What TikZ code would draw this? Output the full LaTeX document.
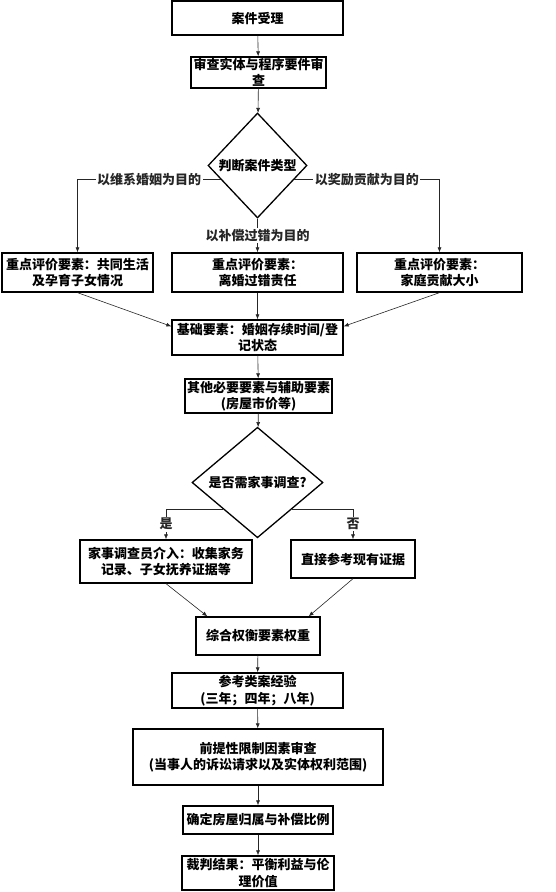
\documentclass[tikz,border=0pt]{standalone}
\usepackage{fontspec}
\newfontfamily\cjk{Noto Sans CJK SC}
\usetikzlibrary{shapes.geometric,arrows.meta}

\begin{document}
\begin{tikzpicture}[x=1pt, y=-1pt,
    box/.style = {rectangle, draw, line width=1.3pt, align=center, inner sep=1pt, font=\cjk\bfseries\fontsize{13}{16.5}\selectfont},
    dec/.style = {diamond, draw, line width=1.3pt, align=center, inner sep=0pt, font=\cjk\bfseries\fontsize{13}{16.5}\selectfont},
    lbl/.style = {fill=white, inner sep=1.5pt, font=\cjk\bfseries\fontsize{13}{16.5}\selectfont},
    arrow/.style = {draw, black!85, -{Latex[length=5pt,width=4pt]}, line width=0.6pt}
]
    \useasboundingbox (0,0) rectangle (556,892);

    \node[box, minimum width=171, minimum height=34] (accept) at (257.5, 18) {案件受理};
    \node[box, minimum width=135, minimum height=31] (exam) at (258.5, 72.5) {审查实体与程序要件审\\查};
    \node[dec, minimum width=99, minimum height=105] (type) at (257.5, 165.5) {判断案件类型};

    \node[box, minimum width=151, minimum height=39] (evalL) at (77.5, 272.5) {重点评价要素：共同生活\\及孕育子女情况};
    \node[box, minimum width=171, minimum height=39] (evalM) at (257.5, 272.5) {重点评价要素：\\离婚过错责任};
    \node[box, minimum width=165, minimum height=39] (evalR) at (439.5, 272.5) {重点评价要素：\\家庭贡献大小};

    \node[box, minimum width=171, minimum height=35] (base) at (257.5, 337.5) {基础要素：婚姻存续时间/登\\记状态};
    \node[box, minimum width=147, minimum height=34] (other) at (258.5, 396) {其他必要要素与辅助要素\\(房屋市价等)};
    \node[dec, minimum width=131, minimum height=93] (need) at (257.5, 482.5) {是否需家事调查?};

    \node[box, minimum width=172, minimum height=43] (inv) at (166, 561.5) {家事调查员介入：收集家务\\记录、子女抚养证据等};
    \node[box, minimum width=124, minimum height=38] (direct) at (353, 559) {直接参考现有证据};

    \node[box, minimum width=124, minimum height=38] (weigh) at (258, 636) {综合权衡要素权重};
    \node[box, minimum width=171, minimum height=35] (ref) at (257.5, 690.5) {参考类案经验\\(三年；四年；八年)};
    \node[box, minimum width=250, minimum height=56] (limit) at (258, 757) {前提性限制因素审查\\(当事人的诉讼请求以及实体权利范围)};
    \node[box, minimum width=150, minimum height=28] (decide) at (258, 820) {确定房屋归属与补偿比例};
    \node[box, minimum width=152, minimum height=34] (result) at (258, 873) {裁判结果：平衡利益与伦\\理价值};

    \path[arrow] (accept) -- (exam);
    \path[arrow] (exam) -- (type);

    % branches of the case type
    \path[arrow] (type.201) -| node[lbl, pos=0.25] {以维系婚姻为目的} (evalL);
    \path[arrow] (type) -- node[lbl] {以补偿过错为目的} (evalM);
    \path[arrow] (type.339) -| node[lbl, pos=0.25] {以奖励贡献为目的} (evalR);

    \path[arrow] (evalL.south) -- ([yshift=-7pt]base.north west);
    \path[arrow] (evalM) -- (base);
    \path[arrow] (evalR.south) -- ([yshift=-7pt]base.north east);
    \path[arrow] (base) -- (other);
    \path[arrow] (other) -- (need);

    \path[arrow] (need.217) -| node[lbl, pos=0.75] {是} (inv);
    \path[arrow] (need.323) -| node[lbl, pos=0.75] {否} (direct);

    \path[arrow] (inv.south) -- ([xshift=12pt]weigh.north west);
    \path[arrow] (direct.south) -- ([xshift=-12pt]weigh.north east);

    \path[arrow] (weigh) -- (ref);
    \path[arrow] (ref) -- (limit);
    \path[arrow] (limit) -- (decide);
    \path[arrow] (decide) -- (result);
\end{tikzpicture}
\end{document}
